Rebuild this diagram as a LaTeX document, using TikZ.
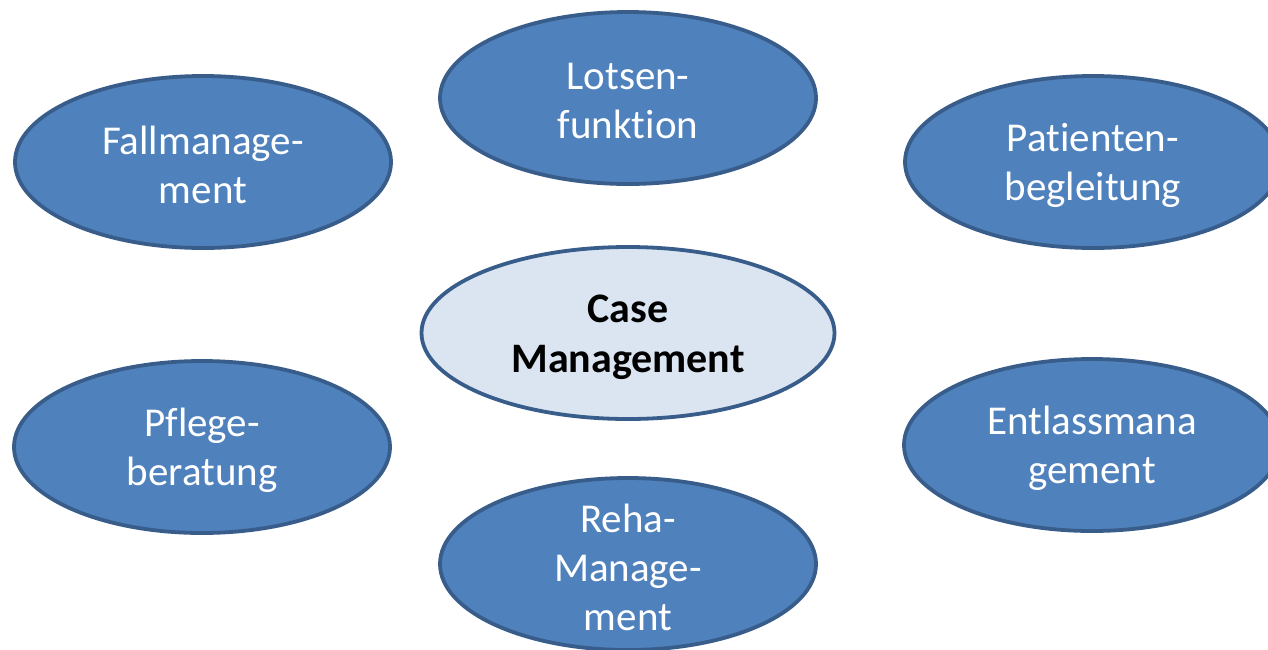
\documentclass[tikz,border=0pt]{standalone}
\usepackage{fontspec}
\setmainfont[Ligatures={NoCommon}]{Carlito}
\usetikzlibrary{shapes.geometric}
\definecolor{topicfill}{HTML}{4F81BD}
\definecolor{topicline}{HTML}{385D8A}
\definecolor{corefill}{HTML}{DBE5F1}
\tikzset{
  topic/.style={ellipse, draw=topicline, line width=3.8pt, fill=topicfill,
    inner sep=0pt, minimum width=376pt, minimum height=172pt,
    label={[topictext]center:{#1}}},
  topictext/.style={text=white, align=center, inner sep=0pt, yshift=-3pt,
    font=\fontsize{41}{49}\selectfont},
  core/.style={topic={}, fill=corefill, minimum width=413pt,
    label={[coretext]center:{#1}}},
  coretext/.style={topictext, text=black, yshift=-1pt,
    font=\fontsize{42}{50}\selectfont\bfseries}
}
\begin{document}
\begin{tikzpicture}[x=1pt,y=-1pt]
  \useasboundingbox (0,0) rectangle (1268,649);
  \clip (0,0) rectangle (1268,649);
  \fill[white] (0,0) rectangle (1268,649);
  \node[core={Case\\Management}]        (cm)    at (628,333)  {};
  \node[topic={Lotsen-\\funktion}]       (lotse) at (628,98)   {};
  \node[topic={Fallmanage-\\ment}]       (fall)  at (203,162)  {};
  \node[topic={Patienten-\\begleitung}]  (pat)   at (1093,162) {};
  \node[topic={Pflege-\\beratung}]       (pfl)   at (202,447)  {};
  \node[topic={Entlassmana\\gement}]     (entl)  at (1092,445) {};
  \node[topic={Reha-\\Manage-\\ment}]    (reha)  at (628,564)  {};
\end{tikzpicture}
\end{document}
